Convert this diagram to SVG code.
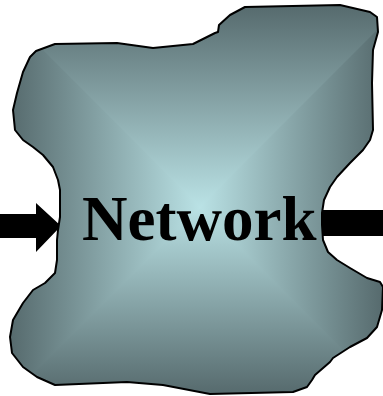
<svg xmlns="http://www.w3.org/2000/svg" width="383" height="396" viewBox="0 0 383 396">
<style>
.blob{stroke:#000;stroke-width:2;stroke-linejoin:round}
.conn{fill:#000}
.label{font-family:"Liberation Serif","Times New Roman",serif;font-weight:bold;font-size:63px;fill:#000}
</style>
<defs>
<linearGradient id="gT" gradientUnits="userSpaceOnUse" x1="0" y1="5" x2="0" y2="207"><stop offset="0" stop-color="#566a6d"/><stop offset="1" stop-color="#bae2e5"/></linearGradient>
<linearGradient id="gB" gradientUnits="userSpaceOnUse" x1="0" y1="394" x2="0" y2="207"><stop offset="0" stop-color="#566a6d"/><stop offset="1" stop-color="#bae2e5"/></linearGradient>
<linearGradient id="gL" gradientUnits="userSpaceOnUse" x1="10" y1="0" x2="200" y2="0"><stop offset="0" stop-color="#566a6d"/><stop offset="1" stop-color="#bae2e5"/></linearGradient>
<linearGradient id="gR" gradientUnits="userSpaceOnUse" x1="383" y1="0" x2="200" y2="0"><stop offset="0" stop-color="#566a6d"/><stop offset="1" stop-color="#bae2e5"/></linearGradient>
<clipPath id="clip"><path id="outline" d="M36,51 L55,44 L117,43 L153,48 L193,44 L215,33 L218,32 L219,25 L230,15 L245,7 L340,5 L370,12 L377,17 L378,32 L373,50 L372,83 L373,130 L370,140 L363,150 L350,163 L337,177 L330,187 L324,200 L322,213 L322,225 L323,240 L328,252 L337,260 L350,268 L367,278 L380,282 L383,287 L382,310 L377,327 L367,338 L350,347 L333,358 L330,362 L315,375 L312,380 L307,387 L293,392 L210,394 L163,385 L127,382 L55,385 L37,377 L23,367 L12,353 L10,337 L13,320 L23,303 L33,290 L45,283 L55,273 L57,260 L57,240 L58,230 L60,217 L60,190 L58,180 L53,167 L43,155 L33,147 L23,140 L15,130 L13,110 L17,93 L23,72 L30,57 Z"/></clipPath>
</defs>
<g id="connectors">
<path class="conn" d="M0,214 L36,214 L36,203 L61,226 L36,252 L36,238 L0,238 Z"/>
<rect class="conn" x="310" y="210" width="73" height="26"/>
</g>
<g id="network">
<g clip-path="url(#clip)">
<rect x="-10" y="-10" width="211" height="420" fill="url(#gL)"/>
<rect x="199" y="-10" width="200" height="420" fill="url(#gR)"/>
<polygon points="-50,-43 450,-43 200,207" fill="url(#gT)"/>
<polygon points="-50,457 450,457 200,207" fill="url(#gB)"/>
</g>
<use href="#outline" class="blob" fill="none"/>
<text class="label" x="82" y="240">Network</text>
</g>
</svg>
